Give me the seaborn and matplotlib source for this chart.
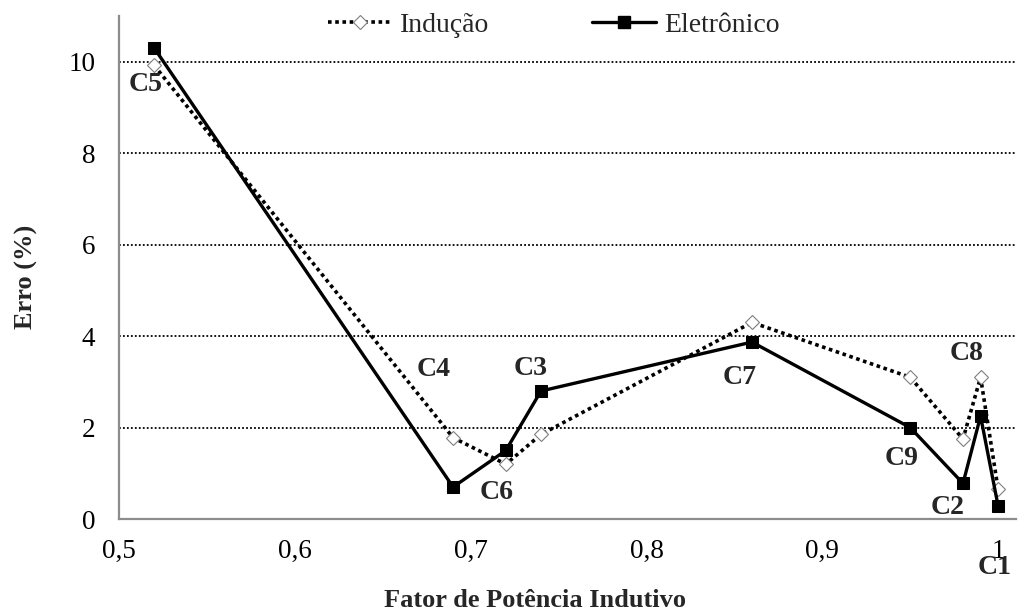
import matplotlib
matplotlib.use("Agg")
import matplotlib.pyplot as plt
import seaborn as sns
import pandas as pd
from matplotlib.ticker import FixedLocator, FuncFormatter
from matplotlib.lines import Line2D

# Power factor of each test case and measured error (%)
fator_potencia = [0.52, 0.69, 0.72, 0.74, 0.86, 0.95, 0.98, 0.99, 1.00]
erro_inducao = [9.92, 1.78, 1.20, 1.85, 4.30, 3.10, 1.75, 3.10, 0.65]
erro_eletronico = [10.30, 0.70, 1.50, 2.80, 3.87, 2.00, 0.78, 2.25, 0.28]

# Case labels with their text positions (data coordinates)
casos = ["C5", "C4", "C6", "C3", "C7", "C9", "C2", "C8", "C1"]
caso_x = [0.515, 0.679, 0.715, 0.734, 0.853, 0.945, 0.971, 0.982, 0.998]
caso_y = [9.50, 3.26, 0.59, 3.30, 3.10, 1.33, 0.26, 3.63, -1.07]

x_ticks = [0.5, 0.6, 0.7, 0.8, 0.9, 1.0]
y_ticks = [0, 2, 4, 6, 8, 10]

sns.set_style("white")
plt.rcParams["font.family"] = ["Liberation Serif", "DejaVu Serif"]

df_ind = pd.DataFrame({"fp": fator_potencia, "erro": erro_inducao})
df_ele = pd.DataFrame({"fp": fator_potencia, "erro": erro_eletronico})

fig = plt.figure(figsize=(10.26, 6.15), dpi=100)
ax = fig.add_axes([0.116, 0.156, 0.874, 0.818])

ind_style = dict(color="black", linestyle=(0, (1, 1)), linewidth=2.6, marker="D",
                 markersize=7, markerfacecolor="white", markeredgecolor="#7f7f7f",
                 markeredgewidth=0.8)
ele_style = dict(color="black", linestyle="-", linewidth=2.4, marker="s",
                 markersize=8, markerfacecolor="black", markeredgecolor="black")

sns.lineplot(data=df_ind, x="fp", y="erro", ax=ax, sort=False, zorder=3, **ind_style)
sns.lineplot(data=df_ele, x="fp", y="erro", ax=ax, sort=False, zorder=4, **ele_style)

ax.set_xlim(0.5, 1.01)
ax.set_ylim(0, 11)
ax.xaxis.set_major_locator(FixedLocator(x_ticks))
ax.yaxis.set_major_locator(FixedLocator(y_ticks))
ax.xaxis.set_major_formatter(FuncFormatter(
    lambda v, p: ("%g" % round(v, 2)).replace(".", ",")))
ax.yaxis.set_major_formatter(FuncFormatter(lambda v, p: "%d" % v))

# dotted horizontal grid
for yv in y_ticks[1:]:
    ax.axhline(yv, color="black", linestyle=(0, (1, 1.2)), linewidth=1.3, zorder=1)

for s in ["top", "right"]:
    ax.spines[s].set_visible(False)
for s in ["left", "bottom"]:
    ax.spines[s].set_color("#8c8c8c")
    ax.spines[s].set_linewidth(1.6)

ax.tick_params(axis="both", which="major", direction="out", length=7, width=1.4,
               color="#8c8c8c", labelsize=19.5, labelcolor="black")
ax.tick_params(axis="x", pad=7)
ax.tick_params(axis="y", pad=10)

ax.set_xlabel("Fator de Potência Indutivo", fontsize=19, fontweight="bold")
ax.set_ylabel("Erro (%)", fontsize=19, fontweight="bold")
ax.xaxis.set_label_coords(0.464, -0.140)
ax.yaxis.set_label_coords(-0.090, 0.481)

for nome, tx, ty in zip(casos, caso_x, caso_y):
    ax.text(tx, ty, nome, fontsize=20, fontweight="bold", ha="center", va="center",
            clip_on=False, zorder=5)

handles = [Line2D([], [], **ind_style), Line2D([], [], **ele_style)]
fig.legend(handles, ["Indução", "Eletrônico"], loc="center", ncol=2,
           bbox_to_anchor=(0.540, 0.959), frameon=False, fontsize=20,
           handlelength=2.3, handletextpad=0.3, columnspacing=3.7)

fig.savefig("out.png", dpi=100)
